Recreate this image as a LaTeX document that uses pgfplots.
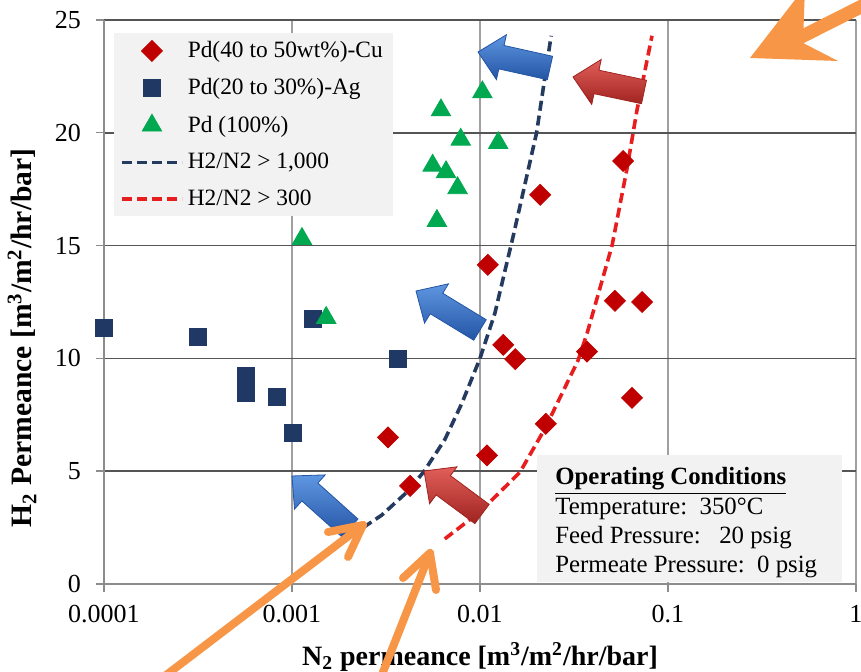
\documentclass[border=0pt]{standalone}
\usepackage{pgfplots}
\pgfplotsset{compat=1.18}
\usepackage{fontspec}
\setmainfont{Liberation Serif}
\usetikzlibrary{calc}
\definecolor{cured}{RGB}{192,0,0}
\definecolor{agnavy}{RGB}{31,56,100}
\definecolor{pdgreen}{RGB}{0,168,80}
\definecolor{lnavy}{RGB}{36,58,94}
\definecolor{lred}{RGB}{232,30,30}
\definecolor{hgrid}{RGB}{85,85,85}
\definecolor{vgrid}{RGB}{160,160,160}
\definecolor{axgray}{RGB}{140,140,140}
\definecolor{boxgray}{RGB}{242,242,242}
\definecolor{orng}{RGB}{247,150,70}
\definecolor{blueL}{RGB}{95,150,225}
\definecolor{blueD}{RGB}{35,85,165}
\definecolor{redL}{RGB}{225,95,90}
\definecolor{redD}{RGB}{160,35,32}

\pgfplotsset{
  markleg/.style={legend image code/.code={\draw[mark repeat=2,mark phase=2,##1] plot coordinates {(0pt,0pt) (15pt,0pt) (30pt,0pt)};}},
  lineleg/.style={legend image code/.code={\draw[##1] (0pt,0pt) -- (30pt,0pt);}},
}

\newcommand{\blockarrow}[4]{%
  \coordinate (T) at #3; \coordinate (H) at #4;
  \coordinate (N) at ($(H)!12pt!(T)$);
  \shadedraw[top color=#1, bottom color=#2, draw=#2, line width=0.4pt]
   ($(T)!6pt!90:(H)$) -- ($(N)!6pt!-90:(T)$) -- ($(N)!11.5pt!-90:(T)$) -- (H) --
   ($(N)!11.5pt!90:(T)$) -- ($(N)!6pt!90:(T)$) -- ($(T)!6pt!-90:(H)$) -- cycle;
}

\begin{document}
\begin{tikzpicture}
\useasboundingbox (-52pt,-44pt) rectangle (378.5pt,292pt);
\begin{axis}[
  at={(0,0)}, anchor=south west,
  scale only axis, width=376pt, height=282pt,
  xmode=log, log basis x=10,
  xmin=0.0001, xmax=1, ymin=0, ymax=25,
  xtick={0.0001,0.001,0.01,0.1,1},
  xticklabels={0.0001,0.001,0.01,0.1,1},
  ytick={0,5,10,15,20,25},
  /pgf/number format/assume math mode=true,
  axis lines*=left,
  axis line style={axgray, line width=0.8pt},
  xmajorgrids, xminorgrids, ymajorgrids,
  major x grid style={vgrid, line width=0.9pt},
  minor x grid style={vgrid, line width=0.9pt},
  major y grid style={hgrid, line width=0.8pt},
  tick align=outside,
  major tick length=4pt, minor tick length=3pt,
  tick style={axgray, line width=0.7pt},
  tick label style={font=\fontsize{13}{15}\selectfont},
  xticklabel style={yshift=-3pt},
  yticklabel style={xshift=-4pt},
  clip=false,
  xlabel={\textbf{N\textsubscript{2} permeance [m\textsuperscript{3}/m\textsuperscript{2}/hr/bar]}},
  ylabel={\textbf{H\textsubscript{2} Permeance [m\textsuperscript{3}/m\textsuperscript{2}/hr/bar]}},
  every axis x label/.style={at={(rel axis cs:0.5,-0.129)}, anchor=center, font=\fontsize{14}{16}\selectfont},
  every axis y label/.style={at={(rel axis cs:-0.109,0.436)}, anchor=center, rotate=90, font=\fontsize{14.8}{16}\selectfont},
  legend style={at={(rel axis cs:0.013,0.977)}, anchor=north west, fill=boxgray, draw=none,
    font=\fontsize{11.7}{14}\selectfont, row sep=5pt, inner xsep=3pt, inner ysep=2pt,
    cells={anchor=west}},
  legend cell align=left,
]
\addplot[only marks, mark=square*, mark size=3.7pt, color=cured,
  every mark/.append style={rotate=45}, markleg]
  coordinates {
  (0.00324,6.5) (0.00425,4.35) (0.0109,5.7) (0.0110,14.15) (0.0209,17.25)
  (0.0133,10.6) (0.0154,9.97) (0.0224,7.1) (0.0371,10.3) (0.0644,8.25)
  (0.0522,12.55) (0.0728,12.5) (0.0577,18.75)};
\addlegendentry{Pd(40 to 50wt\%)-Cu}
\addplot[only marks, mark=square*, mark size=4.3pt, color=agnavy, markleg]
  coordinates {
  (0.0001,11.35) (0.000316,10.95) (0.000569,9.22) (0.000569,8.47)
  (0.00083,8.3) (0.00101,6.7) (0.00129,11.75) (0.00366,9.97)};
\addlegendentry{Pd(20 to 30\%)-Ag}
\addplot[only marks, mark=triangle*, mark size=5.6pt, color=pdgreen, markleg]
  coordinates {
  (0.00113,15.3) (0.00152,11.8) (0.0062,21.0) (0.0103,21.8) (0.0079,19.7)
  (0.0125,19.55) (0.0056,18.55) (0.0066,18.26) (0.0076,17.55) (0.0059,16.1)};
\addlegendentry{Pd (100\%)}
\addplot[lnavy, line width=1.8pt, dash pattern=on 5pt off 2.5pt, lineleg]
  coordinates {
  (0.00239,2.5) (0.003,3.05) (0.004,4.0) (0.005,4.95) (0.0065,6.4) (0.008,8)
  (0.01,10) (0.012,12) (0.015,15.4) (0.02,20) (0.0239,24.3)};
\addlegendentry{H2/N2 > 1,000}
\addplot[lred, line width=1.8pt, dash pattern=on 5pt off 2.5pt, lineleg]
  coordinates {
  (0.0065,2.0) (0.01,3.2) (0.0163,4.95) (0.0222,6.9) (0.0332,9.9) (0.0371,11.1)
  (0.0504,15) (0.0605,18.4) (0.0684,21) (0.0822,24.3)};
\addlegendentry{H2/N2 > 300}
\end{axis}
\begin{scope}[x=0.5pt, y=-0.5pt, shift={(-52pt,292pt)}]
  \fill[boxgray] (537,455) rectangle (842,582.5);
  \node[anchor=base west, inner sep=0pt, font=\fontsize{12.4}{14}\selectfont] at (555,485) {\underline{\textbf{Operating Conditions}}};
  \node[anchor=base west, inner sep=0pt, font=\fontsize{12.4}{14}\selectfont] at (555,515) {Temperature:\ \ 350°C};
  \node[anchor=base west, inner sep=0pt, font=\fontsize{12.4}{14}\selectfont] at (555,544) {Feed Pressure:\ \ \ 20 psig};
  \node[anchor=base west, inner sep=0pt, font=\fontsize{12.4}{14}\selectfont] at (555,573) {Permeate Pressure:\ \ 0 psig};
  \blockarrow{blueL}{blueD}{(550,68)}{(478,52)}
  \blockarrow{redL}{redD}{(644,92)}{(573,77)}
  \blockarrow{blueL}{blueD}{(480,330)}{(416,291)}
  \blockarrow{blueL}{blueD}{(350,528)}{(292,476)}
  \blockarrow{redL}{redD}{(482,514)}{(424,471)}
  \draw[orng, line width=4pt, line cap=round, line join=round] (140,695) -- (363,525);
  \draw[orng, line width=4pt, line cap=round, line join=round] (328,532) -- (363,525) -- (348,557);
  \draw[orng, line width=4pt, line cap=round, line join=round] (370,705) -- (430,553);
  \draw[orng, line width=4pt, line cap=round, line join=round] (403,578) -- (430,553) -- (436,590);
  \draw[orng, line width=6.7pt] (795,40) -- (900,-13);
  \fill[orng] (750,58) -- (805,-13) -- (803,43) -- (838,61) -- cycle;
\end{scope}
\end{tikzpicture}
\end{document}
